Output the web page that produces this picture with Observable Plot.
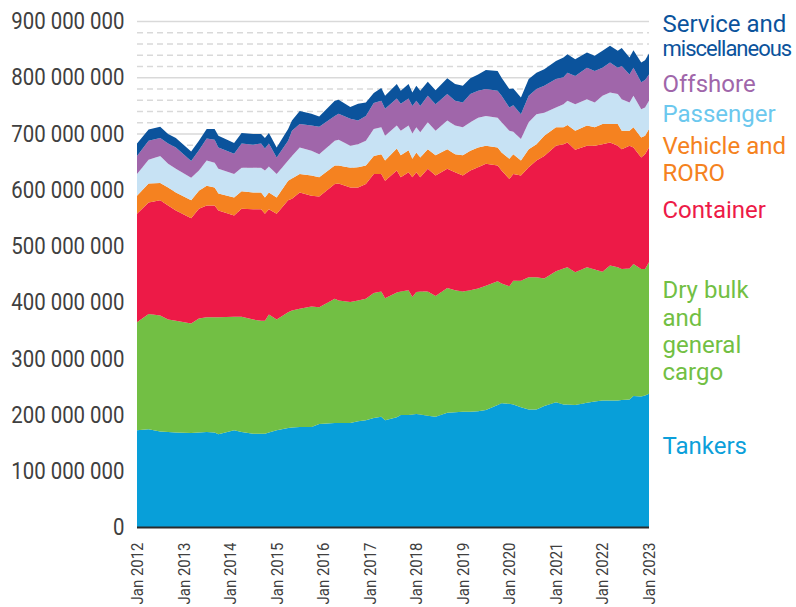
<!DOCTYPE html>
<html>
<head>
<meta charset="utf-8">
<script src="https://cdn.jsdelivr.net/npm/d3@7"></script>
<script src="https://cdn.jsdelivr.net/npm/@observablehq/plot@0.6"></script>
<style>
  html, body { margin: 0; padding: 0; background: #fff; }
  #chart { width: 796px; height: 607px; overflow: hidden; }
</style>
</head>
<body>
<div id="chart"></div>
<script>
// ---- Data (values in millions) ----
const months = ["2012-01","2012-04","2012-07","2012-09","2012-11","2013-03","2013-05","2013-07","2013-09","2013-10",
  "2014-02","2014-04","2014-07","2014-09","2014-10","2014-11","2015-01","2015-04","2015-05","2015-07",
  "2015-10","2015-12","2016-04","2016-05","2016-08","2016-10","2016-12","2017-02","2017-04","2017-05",
  "2017-08","2017-09","2017-11","2017-12","2018-01","2018-02","2018-04","2018-06","2018-09","2018-11",
  "2019-01","2019-03","2019-05","2019-07","2019-10","2019-11","2020-01","2020-02","2020-04","2020-06",
  "2020-08","2020-10","2021-01","2021-03","2021-04","2021-06","2021-09","2021-11","2022-01","2022-03",
  "2022-05","2022-06","2022-08","2022-09","2022-11","2022-12","2023-01"];

const tankers = [172,174,170,169,168,167,168,169,168,165,
  172,169,166,166,166,168,172,176,177,178,
  178,183,185,185,185,188,190,194,196,190,
  195,199,199,200,201,200,198,196,203,204,
  205,205,206,208,217,220,219,218,213,209,
  209,215,222,218,218,217,221,223,225,225,
  225,226,227,233,232,234,237];
const dryBulk = [192,205,206,200,199,195,203,204,205,208,
  202,205,203,201,201,210,197,206,208,210,
  214,208,221,218,215,215,216,222,223,217,
  222,220,222,209,217,219,221,215,222,217,
  214,216,218,221,220,213,209,220,225,235,
  235,227,233,242,244,236,241,235,229,240,
  237,233,233,235,227,225,234];
const container = [193,198,205,203,196,187,195,199,199,190,
  180,192,196,198,190,187,188,199,199,207,
  197,197,204,208,204,201,204,212,209,209,
  217,203,210,213,213,203,218,214,212,210,
  206,213,216,217,206,201,191,190,187,196,
  208,218,223,221,222,218,216,220,227,219,
  216,213,218,207,198,204,204];
const vehicle = [32,34,31,32,32,32,32,35,32,30,
  32,31,30,30,29,30,29,35,36,33,
  36,34,33,32,35,36,33,32,35,36,
  39,39,39,33,35,35,35,36,35,32,
  36,35,35,32,32,32,36,35,27,32,
  29,36,33,30,31,34,36,33,36,33,
  39,33,27,36,36,33,33];
const passenger = [39,42,48,42,42,40,36,45,44,44,
  42,42,44,44,48,46,42,36,40,47,
  44,41,44,46,39,41,44,48,48,44,
  41,44,44,45,45,45,48,44,51,51,
  50,51,53,53,53,54,50,40,38,48,
  53,41,35,41,43,47,47,44,50,56,
  53,56,50,56,50,50,50];
const offshore = [32,34,32,36,38,30,36,39,41,38,
  36,43,41,43,39,41,29,35,45,42,
  45,49,44,46,48,42,44,46,47,48,
  48,48,48,49,47,47,47,47,47,44,
  44,50,48,48,48,47,41,47,44,47,
  45,48,51,48,50,50,56,56,50,53,
  47,59,50,50,48,49,47];
const service = [22,20,20,17,17,17,17,17,19,21,
  19,19,19,17,19,19,18,21,18,23,
  21,18,27,25,21,30,24,18,23,23,
  26,23,26,24,27,27,25,25,28,30,
  30,28,29,34,35,32,33,30,30,30,
  29,29,32,35,33,30,27,27,30,30,
  30,32,30,31,35,35,37];

const seriesNames = ["Tankers","Dry bulk and general cargo","Container","Vehicle and RORO","Passenger","Offshore","Service and miscellaneous"];
const seriesLabels = ["Tankers","Dry bulk\nand\ngeneral\ncargo","Container","Vehicle and\nRORO","Passenger","Offshore","Service and\nmiscellaneous"];
const seriesValues = [tankers, dryBulk, container, vehicle, passenger, offshore, service];
const areaColors = ["#089fd9","#72bf44","#ed1a47","#f58220","#c7e2f4","#a066aa","#0b539c"];
const labelColors = ["#0c9fda","#72bf44","#ed1a47","#f58220","#6cc8ee","#a066aa","#0b539c"];
// vertical nudges for the end labels (layout)
const labelNudge = [-16, 2, 4, 20, -2, -5, -28];

const yearTicks = d3.range(2012, 2024).map(y => new Date(Date.UTC(y, 0, 1)));
const yMajor = d3.range(0, 900e6 + 1, 100e6);
const yMinor = d3.range(20e6, 900e6, 20e6).filter(v => Math.round(v / 1e6) % 100 !== 0);

// ---- Build table ----
const parseMonth = d3.utcParse("%Y-%m");
const dates = months.map(parseMonth);
const rows = seriesNames.flatMap((name, s) =>
  seriesValues[s].map((v, i) => ({date: dates[i], type: name, value: v * 1e6})));

// label anchors: middle of each layer at the last date
const last = months.length - 1;
let cum = 0;
const labelRows = seriesNames.map((name, s) => {
  const v = seriesValues[s][last] * 1e6;
  const mid = cum + v / 2;
  cum += v;
  return {date: dates[last], y: mid, text: seriesLabels[s], color: labelColors[s], nudge: labelNudge[s]};
});

const fmt = d3.formatLocale({thousands: " ", grouping: [3], decimal: ".", currency: ["", ""]}).format(",d");

const chart = Plot.plot({
  width: 796,
  height: 607,
  marginLeft: 137,
  marginRight: 147,
  marginTop: 21,
  marginBottom: 80,
  style: "font-family: Roboto, sans-serif; font-size: 24px; color: #404040; background: #fff;",
  x: {
    type: "utc",
    domain: [dates[0], dates[last]],
    ticks: yearTicks,
    tickFormat: d3.utcFormat("Jan %Y"),
    tickRotate: -90,
    tickSize: 0,
    tickPadding: 15,
    label: null
  },
  y: {
    domain: [0, 900e6],
    ticks: yMajor,
    tickFormat: fmt,
    tickSize: 0,
    tickPadding: 13,
    label: null
  },
  color: {domain: seriesNames, range: areaColors},
  marks: [
    Plot.ruleY(yMinor, {stroke: "#d9d9d9", strokeWidth: 1.5, strokeDasharray: "6,4"}),
    Plot.ruleY(yMajor.filter(v => v > 0), {stroke: "#d9d9d9", strokeWidth: 1.5}),
    Plot.areaY(rows, {x: "date", y: "value", z: "type", fill: "type"}),
    Plot.ruleY([0], {stroke: "#2b2b2b", strokeWidth: 2}),
    ...labelRows.map(d => Plot.text([d], {
      x: "date", y: "y", text: "text", fill: d.color,
      textAnchor: "start", lineAnchor: "middle", dx: 13, dy: d.nudge,
      fontSize: 24, lineHeight: 1.13
    }))
  ]
});

// ---- condensed look for tick labels (horizontal scale only) ----
function condense(el, s) {
  const xa = el.getAttribute("x");
  const x = xa && !/em$/.test(xa) ? (+xa || 0) : 0;
  if (xa && !/em$/.test(xa)) el.removeAttribute("x");
  const tr = el.getAttribute("transform") || "";
  el.setAttribute("transform", `${tr} translate(${x},0) scale(${s},1)`);
}
d3.select(chart).selectAll("text").each(function() {
  const t = this.textContent;
  if (/^Jan \d{4}$/.test(t)) {
    this.style.fontSize = "17px";
    this.setAttribute("fill", "#404040");
    condense(this, 0.88);
  } else if (/^[\d  ]+$/.test(t)) {
    this.style.fontSize = "24px";
    this.setAttribute("fill", "#404040");
    condense(this, 0.85);
  }
});
d3.select(chart).selectAll("tspan").each(function() {
  if (this.textContent === "miscellaneous") {
    this.style.fontSize = "22px";
    this.style.letterSpacing = "-1px";
  }
});

document.getElementById("chart").appendChild(chart);
</script>
</body>
</html>
